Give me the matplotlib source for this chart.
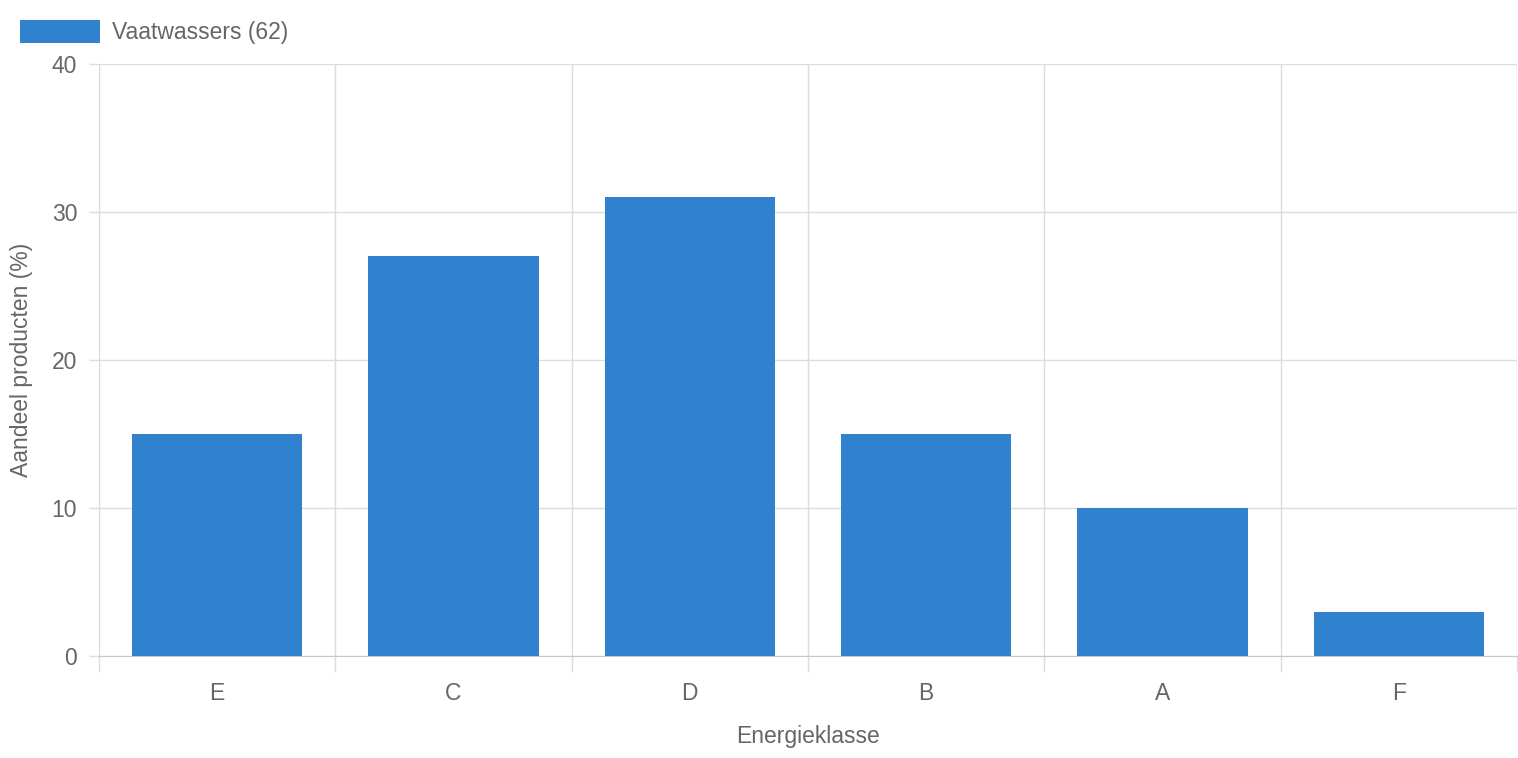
import matplotlib
matplotlib.use("Agg")
import matplotlib.pyplot as plt
from matplotlib.patches import Rectangle
import numpy as np

categories = ["E", "C", "D", "B", "A", "F"]
values = [15, 27, 31, 15, 10, 3]
series_label = "Vaatwassers (62)"
y_ticks = [0, 10, 20, 30, 40]

bar_color = "#3182CE"
grid_color = "#DCDCDC"
text_color = "#666666"
fs = 16.5

plt.rcParams["font.family"] = ["Liberation Sans", "DejaVu Sans"]

W, H = 1518, 758
fig = plt.figure(figsize=(W / 100, H / 100), dpi=100)
ax_l, ax_r, ax_t, ax_b = 99, 1517, 64, 656
ax = fig.add_axes([ax_l / W, 1 - ax_b / H, (ax_r - ax_l) / W, (ax_b - ax_t) / H])

x = np.arange(len(categories))
ax.bar(x, values, width=0.72, color=bar_color, zorder=3)

ax.set_xlim(-0.5, len(categories) - 0.5)
ax.set_ylim(0, 40)
ax.set_yticks(y_ticks)
ax.set_xticks(x)
ax.set_xticklabels(categories)
ax.set_xticks(np.arange(len(categories) + 1) - 0.5, minor=True)

ax.grid(axis="y", which="major", color=grid_color, linewidth=1, zorder=0)
ax.grid(axis="x", which="minor", color=grid_color, linewidth=1, zorder=0)
ax.tick_params(axis="x", which="major", length=0, pad=19, labelsize=fs, labelcolor=text_color)
ax.tick_params(axis="x", which="minor", length=11.5, color=grid_color, width=1)
ax.tick_params(axis="y", which="major", length=7.2, color=grid_color, width=1, pad=8.5,
               labelsize=fs, labelcolor=text_color)

for side in ["top", "right"]:
    ax.spines[side].set_visible(False)
ax.spines["left"].set_color(grid_color)
ax.spines["bottom"].set_color("#C8C8C8")

ax.set_xlabel("Energieklasse", fontsize=fs, color=text_color, va="center")
ax.set_ylabel("Aandeel producten (%)", fontsize=fs, color=text_color, va="center")
ax.xaxis.set_label_coords(0.5, (ax_b - 736) / (ax_b - ax_t))
ax.yaxis.set_label_coords((22 - ax_l) / (ax_r - ax_l), 0.5)

# legend
fig.patches.append(Rectangle((20 / W, 1 - 43 / H), 80 / W, 23 / H, transform=fig.transFigure,
                             facecolor=bar_color, edgecolor="none"))
fig.text(112 / W, 1 - 33 / H, series_label, fontsize=fs, color=text_color, va="center", ha="left")

fig.savefig("out.png", dpi=100)
